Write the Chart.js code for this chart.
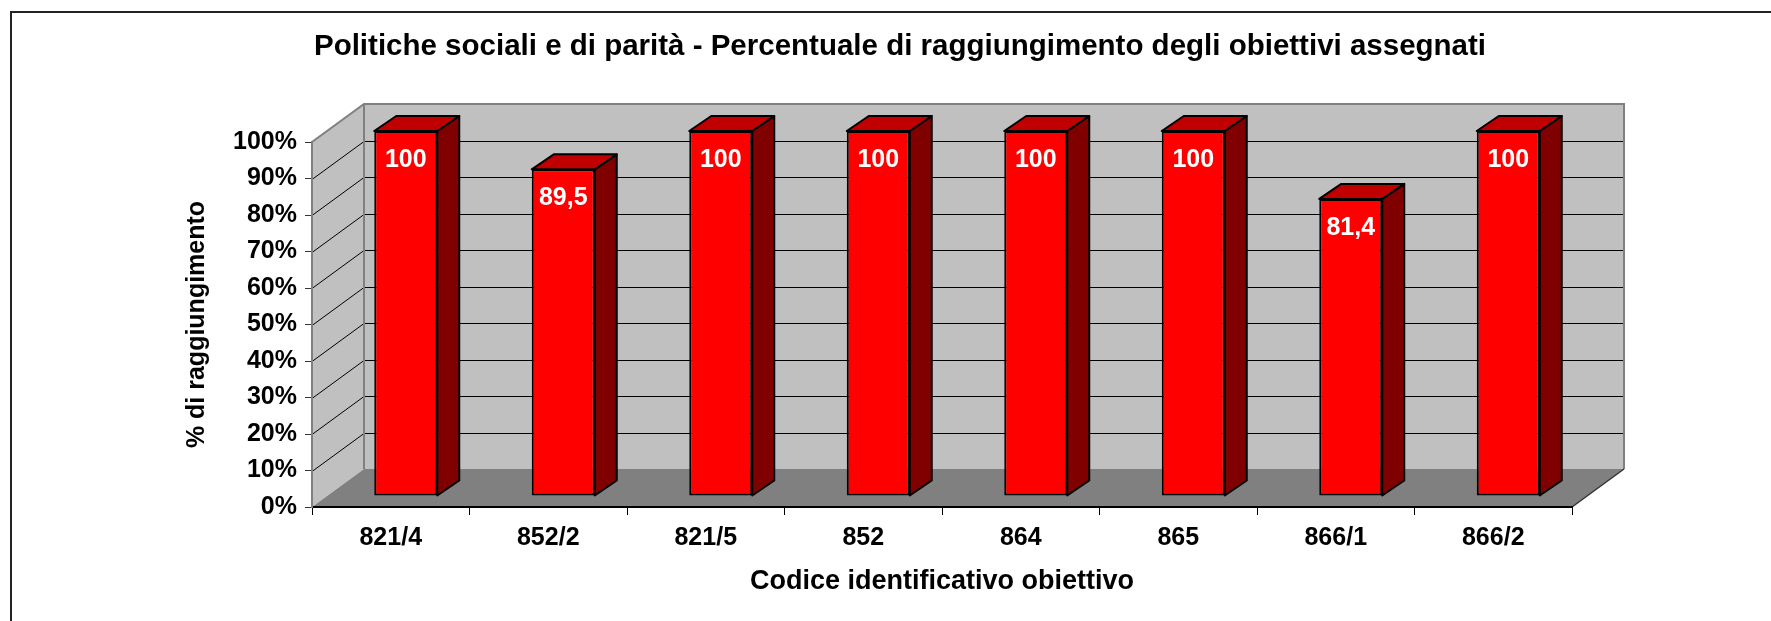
<!DOCTYPE html>
<html>
<head>
<meta charset="utf-8">
<script src="https://cdn.jsdelivr.net/npm/chart.js@4"></script>
<style>
  html, body { margin: 0; padding: 0; background: #fff; }
  #wrap { width: 1771px; height: 621px; }
</style>
</head>
<body>
<div id="wrap"><canvas id="chart" width="1771" height="621"></canvas></div>
<script>
// ─── DATA ─────────────────────────────────────────────────────
const categories = ['821/4', '852/2', '821/5', '852', '864', '865', '866/1', '866/2'];
const values     = [100, 89.5, 100, 100, 100, 100, 81.4, 100];
const valueLabels = ['100', '89,5', '100', '100', '100', '100', '81,4', '100'];
const yTicks     = [0, 10, 20, 30, 40, 50, 60, 70, 80, 90, 100];

const TITLE  = 'Politiche sociali e di parità - Percentuale di raggiungimento degli obiettivi assegnati';
const FONT   = "'Liberation Sans', Arial, sans-serif";

// ─── 3D GEOMETRY ──────────────────────────────────────────────
const WALL  = { dx: 52, dy: -38 };   // front plane -> back wall
const SHIFT = { dx: 15, dy: -11 };   // front plane -> bar front face
const DEPTH = { dx: 22, dy: -15 };   // bar thickness

const walls3d = {
  id: 'walls3d',
  beforeDraw(chart) {
    const { ctx, chartArea: a, scales } = chart;
    const y = scales.y;
    ctx.save();
    // outer frame
    ctx.strokeStyle = '#222';
    ctx.lineWidth = 2;
    ctx.strokeRect(11, 12, 3000, 3000);

    // title
    ctx.fillStyle = '#000';
    ctx.font = `bold 29.5px ${FONT}`;
    ctx.textAlign = 'center';
    ctx.textBaseline = 'middle';
    ctx.fillText(TITLE, 900, 47);

    const bl = a.left + WALL.dx, br = a.right + WALL.dx;
    const bt = a.top + WALL.dy,  bb = a.bottom + WALL.dy;

    // back wall
    ctx.fillStyle = '#c0c0c0';
    ctx.fillRect(bl, bt, br - bl, bb - bt);
    // left wall
    ctx.beginPath();
    ctx.moveTo(a.left, a.top); ctx.lineTo(bl, bt);
    ctx.lineTo(bl, bb); ctx.lineTo(a.left, a.bottom);
    ctx.closePath();
    ctx.fill();
    // floor
    ctx.fillStyle = '#808080';
    ctx.beginPath();
    ctx.moveTo(a.left, a.bottom); ctx.lineTo(bl, bb);
    ctx.lineTo(br, bb); ctx.lineTo(a.right, a.bottom);
    ctx.closePath();
    ctx.fill();

    // gridlines
    ctx.strokeStyle = '#000';
    ctx.lineWidth = 1;
    yTicks.slice(1, -1).forEach(v => {
      const py = Math.round(y.getPixelForValue(v)) + 0.5;
      ctx.beginPath();
      ctx.moveTo(a.left, py);
      ctx.lineTo(bl, py + WALL.dy);
      ctx.lineTo(br, py + WALL.dy);
      ctx.stroke();
    });

    // wall edges
    ctx.strokeStyle = '#808080';
    ctx.lineWidth = 2;
    ctx.beginPath();
    ctx.moveTo(a.left, a.bottom); ctx.lineTo(a.left, a.top);
    ctx.lineTo(bl, bt); ctx.lineTo(br, bt); ctx.lineTo(br, bb);
    ctx.moveTo(bl, bt); ctx.lineTo(bl, bb);
    ctx.stroke();
    ctx.strokeStyle = '#333';
    ctx.lineWidth = 1.5;
    ctx.beginPath();
    ctx.moveTo(a.right, a.bottom); ctx.lineTo(br, bb);
    ctx.stroke();
    ctx.restore();
  },
  beforeDatasetsDraw(chart) {
    const { ctx } = chart;
    const meta = chart.getDatasetMeta(0);
    ctx.save();
    ctx.strokeStyle = '#000';
    ctx.lineWidth = 2;
    ctx.lineJoin = 'round';
    meta.data.forEach(bar => {
      const l = bar.x - bar.width / 2 + SHIFT.dx;
      const r = bar.x + bar.width / 2 + SHIFT.dx;
      const t = bar.y + SHIFT.dy;
      const b = bar.base + SHIFT.dy;
      // side
      ctx.fillStyle = '#800000';
      ctx.beginPath();
      ctx.moveTo(r, t); ctx.lineTo(r + DEPTH.dx, t + DEPTH.dy);
      ctx.lineTo(r + DEPTH.dx, b + DEPTH.dy); ctx.lineTo(r, b);
      ctx.closePath(); ctx.fill(); ctx.stroke();
      // top
      ctx.fillStyle = '#c00000';
      ctx.beginPath();
      ctx.moveTo(l, t); ctx.lineTo(l + DEPTH.dx, t + DEPTH.dy);
      ctx.lineTo(r + DEPTH.dx, t + DEPTH.dy); ctx.lineTo(r, t);
      ctx.closePath(); ctx.fill(); ctx.stroke();
    });
    ctx.restore();
    // front faces are drawn by Chart.js, shifted into depth
    ctx.save();
    ctx.translate(SHIFT.dx, SHIFT.dy);
  },
  afterDatasetsDraw(chart) {
    const { ctx } = chart;
    ctx.restore();
    const meta = chart.getDatasetMeta(0);
    ctx.save();
    ctx.fillStyle = '#fff';
    ctx.font = `bold 25px ${FONT}`;
    ctx.textAlign = 'center';
    ctx.textBaseline = 'middle';
    meta.data.forEach((bar, i) => {
      ctx.fillText(valueLabels[i], bar.x + SHIFT.dx, bar.y + SHIFT.dy + 29);
    });
    ctx.restore();
  }
};

new Chart(document.getElementById('chart'), {
  type: 'bar',
  data: {
    labels: categories,
    datasets: [{
      data: values,
      backgroundColor: '#ff0000',
      borderColor: '#000',
      borderWidth: 2,
      borderSkipped: false,
      categoryPercentage: 1,
      barPercentage: 0.4
    }]
  },
  options: {
    responsive: false,
    animation: false,
    layout: { padding: { left: 182, right: 199, top: 142, bottom: 20 } },
    plugins: {
      legend: { display: false },
      tooltip: { enabled: false },
      title: { display: false }
    },
    scales: {
      x: {
        afterFit: s => { s.height = 94; },
        grid: { drawOnChartArea: false, tickLength: 8, color: '#000', offset: true },
        border: { color: '#000', width: 2 },
        ticks: { color: '#000', padding: 8, font: { family: FONT, size: 25, weight: 'bold' } },
        title: {
          display: true, text: 'Codice identificativo obiettivo', color: '#000',
          padding: { top: 0, bottom: 3 },
          font: { family: FONT, size: 27, weight: 'bold' }
        }
      },
      y: {
        min: 0, max: 100,
        afterFit: s => { s.width = 130; },
        afterBuildTicks: s => { s.ticks = yTicks.map(v => ({ value: v })); },
        grid: { drawOnChartArea: false, tickLength: 7, color: '#333' },
        border: { color: '#808080', width: 2 },
        ticks: {
          color: '#000', padding: 8,
          font: { family: FONT, size: 25, weight: 'bold' },
          callback: v => v + '%'
        },
        title: {
          display: true, text: '% di raggiungimento', color: '#000',
          padding: 0,
          font: { family: FONT, size: 25, weight: 'bold' }
        }
      }
    }
  },
  plugins: [walls3d]
});
</script>
</body>
</html>
